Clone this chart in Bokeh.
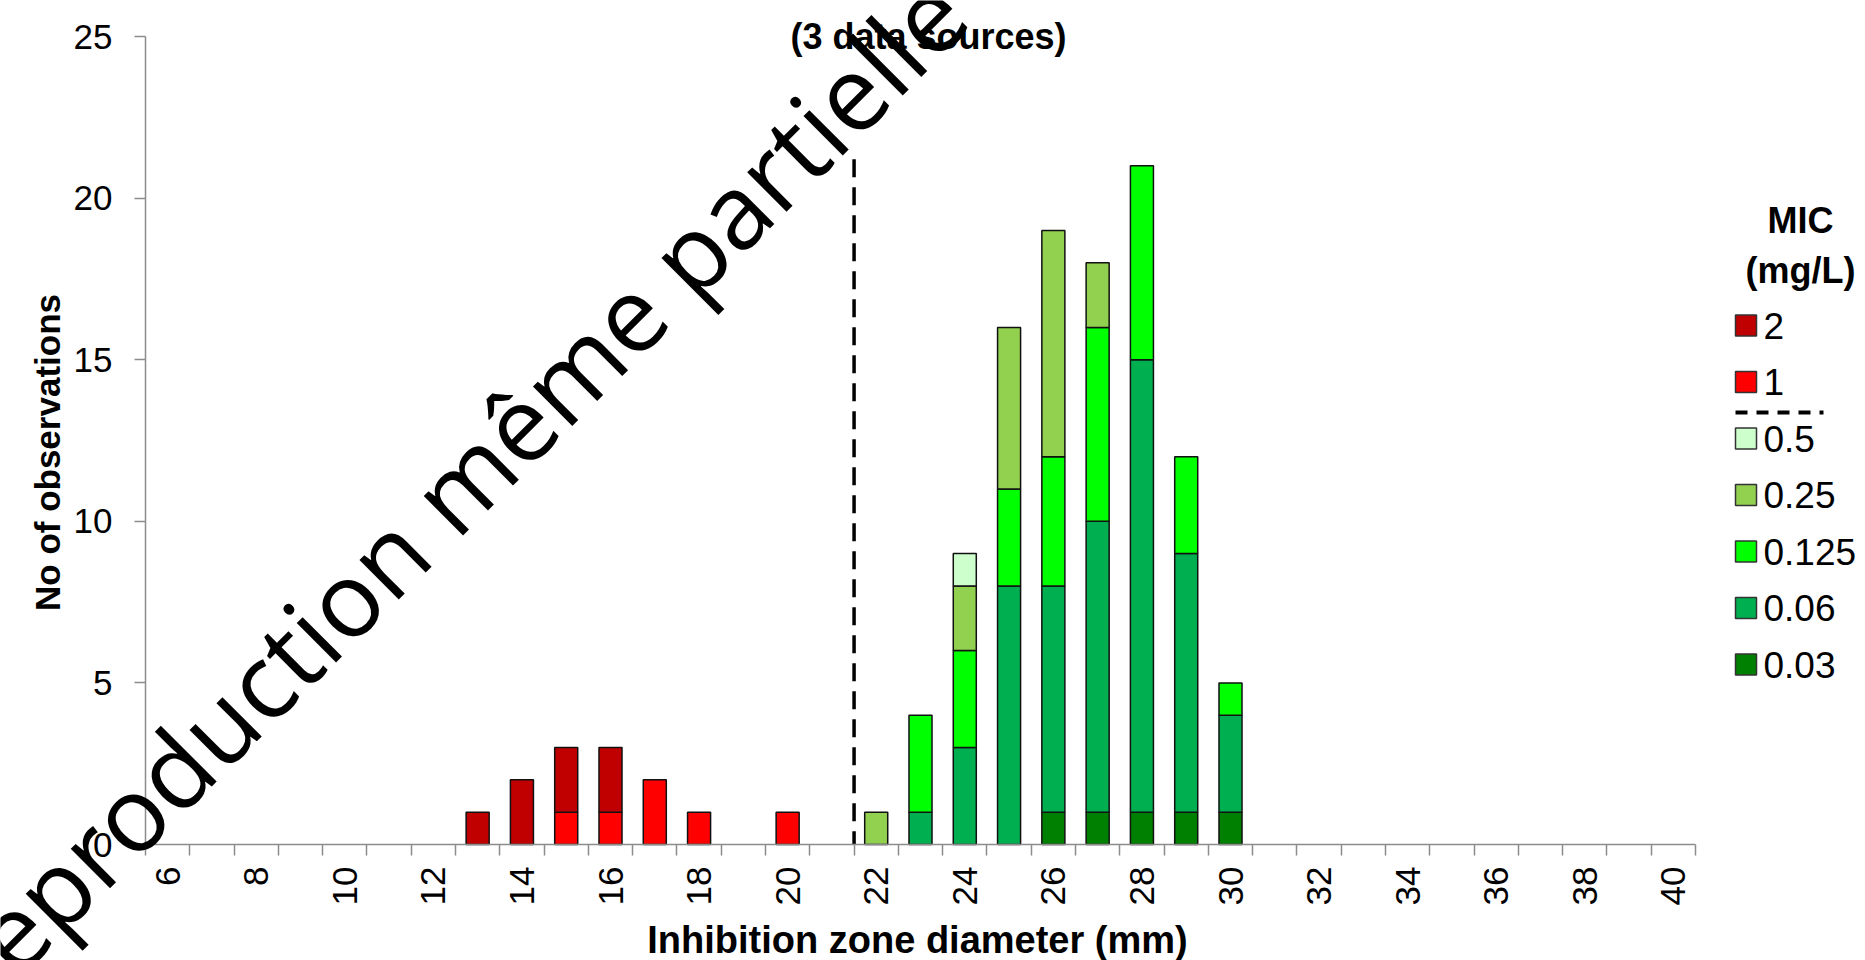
import numpy as np
from bokeh.plotting import figure
from bokeh.models import Range1d, FixedTicker, Label
from bokeh.embed import file_html
from bokeh.resources import INLINE

# Inhibition zone diameter (mm) with observations, and counts per MIC (mg/L)
diameters = [13, 14, 15, 16, 17, 18, 20, 22, 23, 24, 25, 26, 27, 28, 29, 30]
mic_003  = [0, 0, 0, 0, 0, 0, 0, 0, 0, 0, 0, 1, 1, 1, 1, 1]
mic_006  = [0, 0, 0, 0, 0, 0, 0, 0, 1, 3, 8, 7, 9, 14, 8, 3]
mic_0125 = [0, 0, 0, 0, 0, 0, 0, 0, 3, 3, 3, 4, 6, 6, 3, 1]
mic_025  = [0, 0, 0, 0, 0, 0, 0, 1, 0, 2, 5, 7, 2, 0, 0, 0]
mic_05   = [0, 0, 0, 0, 0, 0, 0, 0, 0, 1, 0, 0, 0, 0, 0, 0]
mic_1    = [0, 0, 1, 1, 2, 1, 1, 0, 0, 0, 0, 0, 0, 0, 0, 0]
mic_2    = [1, 2, 2, 2, 0, 0, 0, 0, 0, 0, 0, 0, 0, 0, 0, 0]

# stacking order, bottom to top
series = [
    ("0.03", mic_003, "#008000"),
    ("0.06", mic_006, "#00B050"),
    ("0.125", mic_0125, "#00FF00"),
    ("0.25", mic_025, "#92D050"),
    ("0.5", mic_05, "#CCFFCC"),
    ("1", mic_1, "#FF0000"),
    ("2", mic_2, "#C00000"),
]
legend_order = ["2", "1", "0.5", "0.25", "0.125", "0.06", "0.03"]

x_tick_values = list(range(6, 41, 2))
y_tick_values = [0, 5, 10, 15, 20, 25]
breakpoint_mm = 21.5          # S/R breakpoint drawn between 21 and 22 mm
breakpoint_line_top = 21.2

# page geometry (pixels); the frame fills the page and the axes sit at fixed spots
W, H = 1865, 960
AX_LEFT, AX_BOTTOM, AX_TOP = 145, 844, 36
X0, X1 = 5.5, 40.5
Y_MAX = 25
PX_PER_MM = 1550 / (X1 - X0)
PX_PER_OBS = (AX_BOTTOM - AX_TOP) / Y_MAX


def dx(px):
    return X0 + (px - AX_LEFT) / PX_PER_MM


def dy(py):
    return (AX_BOTTOM - py) / PX_PER_OBS


FONT = "Liberation Sans"

p = figure(width=W, height=H, output_backend="svg", toolbar_location=None,
           x_range=Range1d(dx(0), dx(W)), y_range=Range1d(dy(H), dy(0)),
           min_border=0, min_border_left=0, min_border_right=0,
           min_border_top=0, min_border_bottom=0)
p.outline_line_color = None
p.grid.visible = False
p.background_fill_color = "white"
p.border_fill_color = "white"

# stacked bars
x = np.array(diameters, dtype=float)
base = np.zeros(len(diameters))
for name, counts, color in series:
    c = np.array(counts, dtype=float)
    m = c > 0
    p.vbar(x=x[m], bottom=base[m], top=(base + c)[m], width=0.52,
           fill_color=color, line_color="#111111", line_width=1.5)
    base = base + c

# breakpoint line
p.segment(x0=[breakpoint_mm], y0=[breakpoint_line_top], x1=[breakpoint_mm], y1=[0],
          line_color="black", line_width=3.5, line_dash="18 10")

# axes
AXIS_COLOR = "#8c8c8c"
xa = p.xaxis[0]
xa.fixed_location = 0
xa.bounds = (X0, X1)
xa.ticker = FixedTicker(ticks=x_tick_values,
                        minor_ticks=[X0 + i for i in range(int(X1 - X0) + 1)])
xa.axis_line_color = AXIS_COLOR
xa.axis_line_width = 1.5
xa.major_tick_out = 0
xa.major_tick_in = 0
xa.minor_tick_out = 11
xa.minor_tick_in = 0
xa.minor_tick_line_color = AXIS_COLOR
xa.minor_tick_line_width = 1.5
xa.major_label_orientation = np.pi / 2
xa.major_label_standoff = 11
xa.major_label_text_font = FONT
xa.major_label_text_font_size = "35px"
xa.major_label_text_color = "black"

ya = p.yaxis[0]
ya.fixed_location = X0
ya.bounds = (0, Y_MAX)
ya.ticker = FixedTicker(ticks=y_tick_values, minor_ticks=[])
ya.axis_line_color = AXIS_COLOR
ya.axis_line_width = 1.5
ya.major_tick_out = 11
ya.major_tick_in = 0
ya.major_tick_line_color = AXIS_COLOR
ya.major_tick_line_width = 1.5
ya.minor_tick_out = 0
ya.minor_tick_in = 0
ya.major_label_standoff = 22
ya.major_label_text_font = FONT
ya.major_label_text_font_size = "35px"
ya.major_label_text_color = "black"


def label(px, py, text, size, bold=False, align="center", angle=0.0, font=FONT):
    p.add_layout(Label(x=dx(px), y=dy(py), text=text, text_align=align,
                       text_baseline="middle", angle=angle, text_font=font,
                       text_font_style="bold" if bold else "normal",
                       text_font_size=size, text_color="black"))


# titles
label(928, 36, "(3 data sources)", "36px", bold=True)
label(917, 939, "Inhibition zone diameter (mm)", "38px", bold=True)
label(47, 452, "No of observations", "35px", bold=True, angle=np.pi / 2)

# legend
colors = {name: color for name, _, color in series}
label(1800, 220, "MIC", "36px", bold=True)
label(1800, 270, "(mg/L)", "36px", bold=True)
item_y = [325 + 56.5 * i for i in range(len(legend_order))]
p.rect(x=[dx(1745.5)] * len(legend_order), y=[dy(v) for v in item_y], width=21, height=21,
       width_units="screen", height_units="screen",
       fill_color=[colors[n] for n in legend_order], line_color="#333333", line_width=1.5)
for name, yc in zip(legend_order, item_y):
    label(1763, yc, name, "37px", align="left")
p.segment(x0=[dx(1735)], y0=[dy(412)], x1=[dx(1823)], y1=[dy(412)],
          line_color="black", line_width=4, line_dash="12 9")

# diagonal watermark
p.add_layout(Label(x=dx(-57), y=dy(997), text="Reproduction même partielle", angle=np.pi / 4,
                   text_align="left", text_baseline="alphabetic", text_font="Open Sans",
                   text_font_size="104px", text_color="black"))

open("out.html", "w").write(file_html(p, INLINE))
